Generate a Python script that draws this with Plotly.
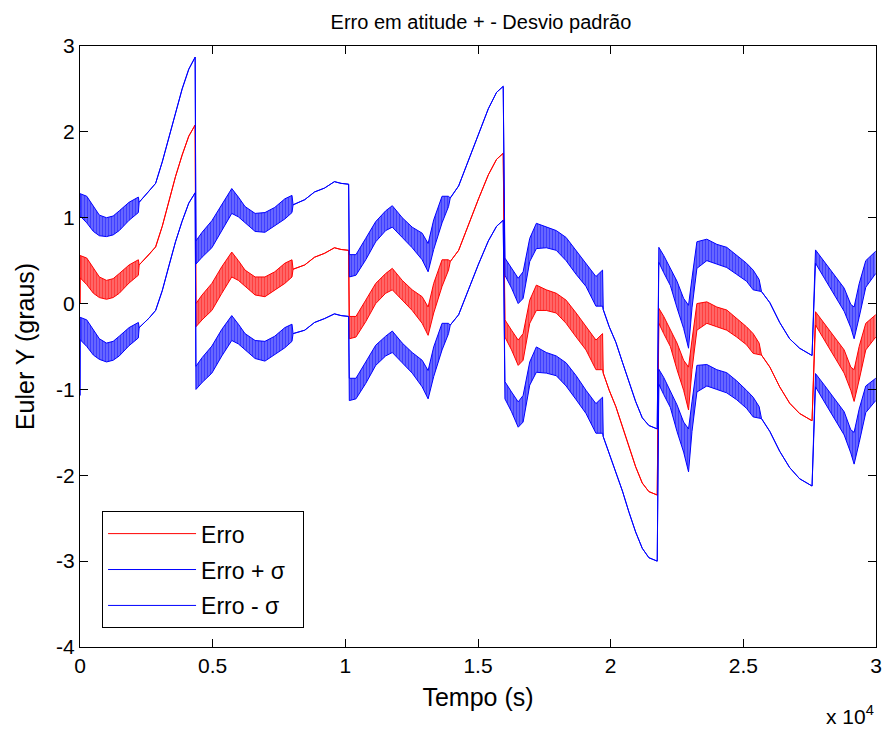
import plotly.graph_objects as go

# Time knots (s)
t = [0, 5, 255, 505, 730, 1000, 1250, 1480, 1850, 2200, 2230, 2600, 2850, 3100, 3350, 3600, 3850, 4100, 4340,
     4370, 4600, 4970, 5345, 5720, 5970, 6220, 6600, 6970, 7340, 7720, 7990, 8030, 8470, 8840, 9215, 9590, 9840, 10125,
     10150, 10400, 10770, 11145, 11520, 11770, 12145, 12520, 12895, 13120, 13330, 13645, 13890, 13955, 14270, 14640, 15020, 15390, 15700, 15950,
     16015, 16265, 16515, 16700, 16950, 17200, 17575, 17950, 18320, 18700, 19070, 19445, 19695, 19720, 19945, 20195, 20445, 20690, 20940, 21190, 21440, 21755,
     21815, 22000, 22250, 22500, 22750, 22935, 23065, 23250, 23625, 24000, 24375, 24750, 25120, 25370, 25595, 25685, 26000, 26370, 26745, 27120, 27590,
     27720, 28055, 28430, 28800, 29050, 29175, 29365, 29615, 29990]

# Upper / lower envelope of the error oscillation (deg)
erro_hi = [0.00, 0.56, 0.53, 0.42, 0.31, 0.27, 0.29, 0.35, 0.45, 0.51, 0.45, 0.57, 0.66, 0.90, 1.19, 1.48, 1.73, 1.95, 2.08,
           0.00, 0.10, 0.235, 0.43, 0.60, 0.50, 0.39, 0.31, 0.31, 0.37, 0.47, 0.51, 0.40, 0.45, 0.54, 0.585, 0.65, 0.63, 0.62,
           -0.15, -0.15, 0.04, 0.235, 0.35, 0.41, 0.27, 0.16, 0.08, -0.04, 0.235, 0.51, 0.51, 0.49, 0.62, 0.92, 1.22, 1.50, 1.68, 1.75,
           -0.19, -0.31, -0.425, -0.35, 0.04, 0.215, 0.16, 0.12, 0.04, -0.11, -0.27, -0.425, -0.35, -0.81, -1.01, -1.20, -1.435, -1.67, -1.90, -2.09, -2.19, -2.23,
           -0.055, -0.15, -0.31, -0.46, -0.66, -0.74, -0.425, 0.00, 0.02, -0.04, -0.075, -0.17, -0.27, -0.35, -0.46, -0.60, -0.74, -0.97, -1.16, -1.28, -1.365,
           -0.095, -0.23, -0.39, -0.54, -0.74, -0.77, -0.50, -0.23, -0.13]
erro_lo = [0.00, 0.30, 0.22, 0.12, 0.07, 0.05, 0.07, 0.12, 0.24, 0.33, 0.45, 0.57, 0.66, 0.90, 1.19, 1.48, 1.73, 1.95, 2.08,
           -0.27, -0.19, -0.08, 0.12, 0.31, 0.27, 0.20, 0.10, 0.08, 0.16, 0.235, 0.31, 0.40, 0.45, 0.54, 0.585, 0.65, 0.63, 0.62,
           -0.41, -0.39, -0.21, 0.00, 0.12, 0.16, 0.04, -0.08, -0.23, -0.37, -0.11, 0.20, 0.39, 0.49, 0.62, 0.92, 1.22, 1.50, 1.68, 1.75,
           -0.39, -0.54, -0.72, -0.66, -0.23, -0.08, -0.08, -0.11, -0.23, -0.39, -0.54, -0.77, -0.77, -0.81, -1.01, -1.20, -1.435, -1.67, -1.90, -2.09, -2.19, -2.23,
           -0.23, -0.35, -0.50, -0.77, -1.01, -1.24, -0.77, -0.31, -0.23, -0.27, -0.31, -0.39, -0.48, -0.58, -0.60, -0.60, -0.74, -0.97, -1.16, -1.28, -1.365,
           -0.25, -0.425, -0.62, -0.81, -1.01, -1.14, -0.89, -0.54, -0.39]

# Standard deviation (deg)
sigma = [1.07, 0.72, 0.72, 0.72, 0.72, 0.73, 0.73, 0.73, 0.73, 0.73, 0.73, 0.74, 0.74, 0.75, 0.75, 0.76, 0.77, 0.78, 0.79,
         0.73, 0.73, 0.73, 0.73, 0.74, 0.74, 0.74, 0.74, 0.75, 0.75, 0.75, 0.75, 0.75, 0.76, 0.76, 0.76, 0.77, 0.77, 0.77,
         0.72, 0.72, 0.72, 0.72, 0.73, 0.73, 0.73, 0.73, 0.74, 0.74, 0.74, 0.74, 0.74, 0.74, 0.75, 0.75, 0.76, 0.77, 0.78, 0.78,
         0.72, 0.72, 0.72, 0.72, 0.72, 0.72, 0.73, 0.73, 0.73, 0.73, 0.74, 0.74, 0.74, 0.74, 0.74, 0.75, 0.75, 0.76, 0.76, 0.76, 0.77, 0.77,
         0.71, 0.71, 0.71, 0.72, 0.72, 0.72, 0.72, 0.72, 0.73, 0.73, 0.73, 0.73, 0.74, 0.74, 0.74, 0.74, 0.75, 0.75, 0.75, 0.76, 0.76,
         0.72, 0.72, 0.72, 0.72, 0.73, 0.73, 0.73, 0.73, 0.74]

x_tickvals = [0, 5000, 10000, 15000, 20000, 25000, 30000]
x_ticktext = ["0", "0.5", "1", "1.5", "2", "2.5", "3"]
y_tickvals = [-4, -3, -2, -1, 0, 1, 2, 3]
y_ticktext = ["-4", "-3", "-2", "-1", "0", "1", "2", "3"]

series = [
    ("Erro", "#ff0000", "rgba(255,0,0,0.5)", 0),
    ("Erro + \u03c3\u00a0\u00a0", "#0000ff", "rgba(0,0,255,0.5)", 1),
    ("Erro - \u03c3", "#0000ff", "rgba(0,0,255,0.5)", -1),
]

FONT = "Liberation Sans, Arial, sans-serif"
fig = go.Figure()
for name, col, bg, sgn in series:
    hi = [h + sgn * s for h, s in zip(erro_hi, sigma)]
    lo = [l + sgn * s for l, s in zip(erro_lo, sigma)]
    fig.add_trace(go.Scatter(x=t, y=hi, mode="lines", name=name, legendgroup=name,
                             line=dict(color=col, width=1)))
    fig.add_trace(go.Scatter(x=t, y=lo, mode="lines", name=name, legendgroup=name, showlegend=False,
                             line=dict(color=col, width=1), fill="tonexty", fillcolor=bg,
                             fillpattern=dict(shape="|", size=3, solidity=0.6, fgcolor=col, bgcolor=bg)))

fig.update_layout(
    width=894, height=731,
    margin=dict(l=80, r=12, t=46, b=84),
    paper_bgcolor="white", plot_bgcolor="white",
    font=dict(family=FONT, size=21, color="black"),
    title=dict(text="Erro em atitude + - Desvio padr\u00e3o", x=0.538, xanchor="center",
               y=0.97, yanchor="middle", font=dict(size=20)),
    showlegend=True,
    legend=dict(x=0.0277, y=0.226, xanchor="left", yanchor="top", bgcolor="white",
                bordercolor="black", borderwidth=1, font=dict(size=23), itemwidth=88,
                traceorder="grouped", tracegroupgap=3),
    xaxis=dict(range=[0, 30000], tickvals=x_tickvals, ticktext=x_ticktext,
               ticks="inside", ticklen=8, tickcolor="black", showline=True, linecolor="black",
               linewidth=1, mirror="ticks", showgrid=False, zeroline=False,
               title=dict(text="Tempo (s)", standoff=12)),
    yaxis=dict(range=[-4, 3], tickvals=y_tickvals, ticktext=y_ticktext,
               ticks="inside", ticklen=8, tickcolor="black", showline=True, linecolor="black",
               linewidth=1, mirror="ticks", showgrid=False, zeroline=False,
               title=dict(text="Euler Y (graus)", standoff=14)),
    annotations=[dict(text="x 10<sup>4</sup>", xref="paper", yref="paper", x=1.0, y=-0.113,
                      xanchor="right", yanchor="middle", showarrow=False, font=dict(size=21))],
)

fig.write_html("out.html")
